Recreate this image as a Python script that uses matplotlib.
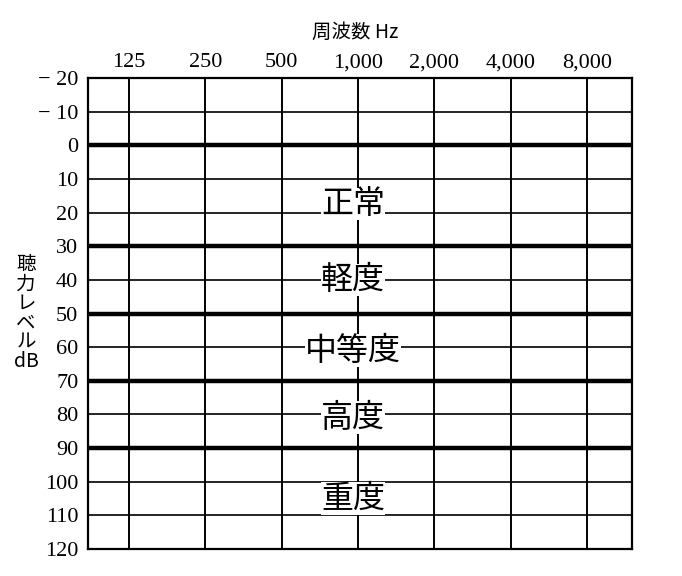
import numpy as np
import matplotlib
matplotlib.use("Agg")
import matplotlib.pyplot as plt

freqs = [125, 250, 500, 1000, 2000, 4000, 8000]
freq_labels = ["125", "250", "500", "1,000", "2,000", "4,000", "8,000"]
levels = list(range(-20, 121, 10))
level_labels = ["\u2212 20", "\u2212 10"] + [str(v) for v in levels[2:]]
bounds = [0, 30, 50, 70, 90]
grades = ["正常", "軽度", "中等度", "高度", "重度"]
grade_pos = [17.5, 40, 61, 81, 105]

jp = ["Noto Sans CJK JP", "DejaVu Sans"]
serif = ["Liberation Serif", "DejaVu Serif"]

fig = plt.figure(figsize=(6.82, 5.76), dpi=100)
ax = fig.add_axes([88/682, 1-549/576, (632-88)/682, (549-78)/576])
ax.set_xscale("log", base=2)
ax.set_xlim(125*2**-0.54, 8000*2**0.59)
ax.set_ylim(120, -20)

for f in freqs:
    ax.axvline(f, color="black", lw=1.4, zorder=1)
for v in levels:
    lw = 3.2 if v in bounds else 1.2
    ax.axhline(v, color="black", lw=lw, zorder=1)

ax.xaxis.tick_top()
ax.set_xticks(freqs)
ax.set_xticklabels(freq_labels, fontfamily=serif, fontsize=16)
ax.minorticks_off()
ax.set_yticks(levels)
ax.set_yticklabels(level_labels, fontfamily=serif, fontsize=16)
ax.tick_params(axis="x", length=0, pad=4)
ax.tick_params(axis="y", length=0, pad=7)
for s in ax.spines.values():
    s.set_linewidth(1.6)

for g, y in zip(grades, grade_pos):
    ax.text(1000*2**-0.065, y, g, ha="center", va="center", fontsize=23,
            family=jp, zorder=3,
            bbox=dict(facecolor="white", edgecolor="none", pad=0.3))

fig.text(355/682, 1-32/576, "周波数 Hz", ha="center", va="center",
         fontsize=14, family=jp)
fig.text(26/682, 1-313/576, "聴\n力\nレ\nベ\nル\ndB", ha="center", va="center",
         fontsize=14, family=jp, linespacing=0.9)

fig.savefig("out.png", dpi=100)
